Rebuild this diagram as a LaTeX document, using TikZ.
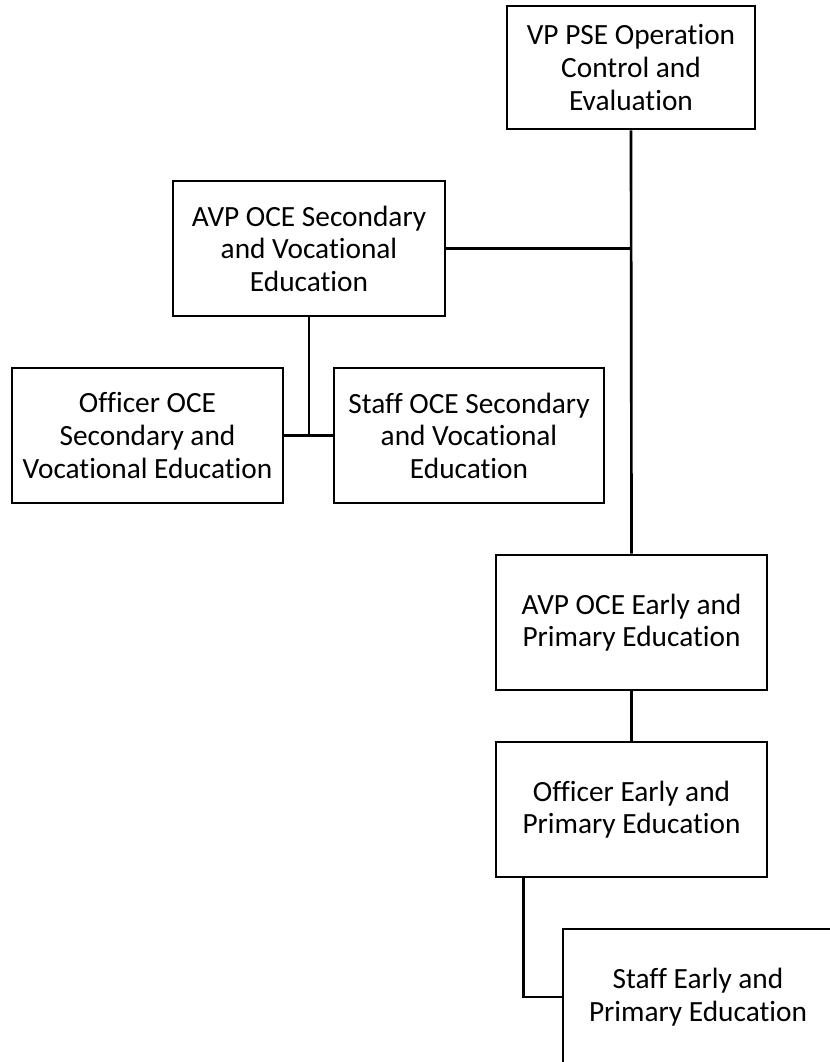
\documentclass[tikz,border=0pt]{standalone}
\usepackage{fontspec}
\setmainfont[Ligatures={NoCommon}]{Carlito}
\begin{document}
\begin{tikzpicture}[x=0.75pt,y=-0.75pt,
  box/.style={draw=black,line width=1.9pt,fill=white,align=center,inner sep=0pt,
    font=\fontsize{22pt}{24.4pt}\selectfont},
  conn/.style={line width=2pt}]
\useasboundingbox (0,0) rectangle (830,1062);
\clip (0,0) rectangle (830,1062);
\node[box,minimum width=248*0.75pt,minimum height=123*0.75pt] (vp) at (631,67.5) {VP PSE Operation\\Control and\\Evaluation};
\node[box,minimum width=272*0.75pt,minimum height=135*0.75pt] (avps) at (309,248.5) {AVP OCE Secondary\\and Vocational\\Education};
\node[box,minimum width=271*0.75pt,minimum height=135*0.75pt] (offs) at (147.5,435.5) {Officer OCE\\Secondary and\\Vocational Education};
\node[box,minimum width=270*0.75pt,minimum height=135*0.75pt] (stfs) at (469,435.5) {Staff OCE Secondary\\and Vocational\\Education};
\node[box,minimum width=271*0.75pt,minimum height=135*0.75pt] (avpe) at (631.5,622.5) {AVP OCE Early and\\Primary Education};
\node[box,minimum width=271*0.75pt,minimum height=135*0.75pt] (offe) at (631.5,809.5) {Officer Early and\\Primary Education};
\node[box,minimum width=270*0.75pt,minimum height=136*0.75pt] (stfe) at (698,997) {Staff Early and\\Primary Education};
\coordinate (j1) at (vp.south |- avps.east);
\coordinate (j2) at (avps.south |- offs.east);
\coordinate (o1) at ([xshift=-81pt]offe.south);
\coordinate (o2) at (o1 |- stfe.west);
\draw[conn] (vp.south) -- (avpe.north);
\draw[conn] (avps.east) -- (j1);
\draw[conn] (avps.south) -- (j2);
\draw[conn] (offs.east) -- (stfs.west);
\draw[conn] (avpe.south) -- (offe.north);
\draw[conn] (o1) -- (o2) -- (stfe.west);
\end{tikzpicture}
\end{document}
